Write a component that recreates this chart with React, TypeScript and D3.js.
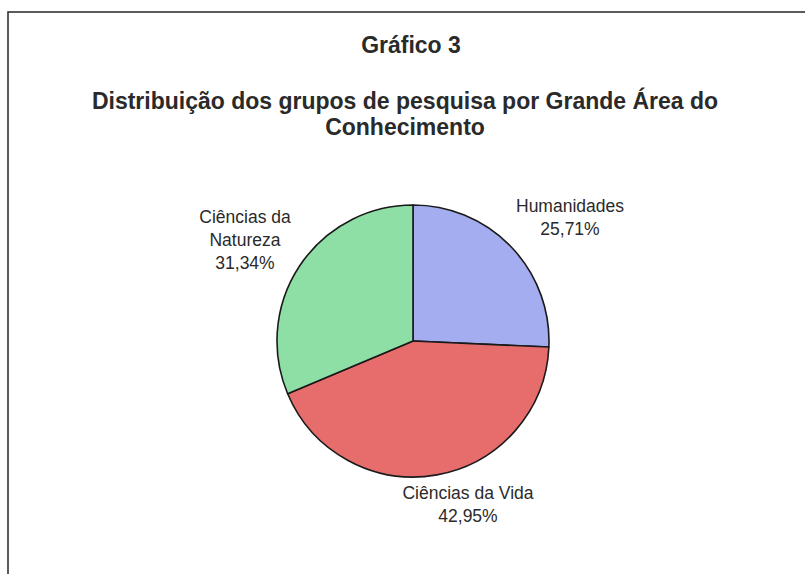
import React from "react";
import * as d3 from "d3";

const categories = ["Humanidades", "Ciências da Vida", "Ciências da Natureza"];
const values = [25.71, 42.95, 31.34];
const valueLabels = ["25,71%", "42,95%", "31,34%"];
const labelLines = [["Humanidades"], ["Ciências da Vida"], ["Ciências da", "Natureza"]];
const colors = ["#a3adef", "#e76d6c", "#8edfa5"];
const title = "Gráfico 3";
const subtitleLines = ["Distribuição dos grupos de pesquisa por Grande Área do", "Conhecimento"];

const W = 805;
const H = 574;
const cx = 413;
const cy = 341;
const R = 136;

// label anchor positions (center x, first baseline y)
const labelPos: [number, number][] = [
  [570, 212],
  [468, 499],
  [245, 223],
];

export default function App() {
  const pie = d3
    .pie<number>()
    .sort(null)
    .value((d) => d)(values);
  const arc = d3.arc<d3.PieArcDatum<number>>().innerRadius(0).outerRadius(R);
  const font = "'Liberation Sans', Arial, sans-serif";
  return (
    <svg
      width={W}
      height={H}
      style={{ position: "absolute", left: 0, top: 0, background: "#fff" }}
      fontFamily={font}
    >
      <rect x={0} y={0} width={W} height={H} fill="#fff" />
      <rect x={8} y={12} width={W + 20} height={H + 20} fill="none" stroke="#333" strokeWidth={1.6} />
      <text x={411} y={53} textAnchor="middle" fontSize={23} fontWeight="bold" fill="#2a2a2a">
        {title}
      </text>
      {subtitleLines.map((t, i) => (
        <text key={i} x={405} y={109 + i * 26} textAnchor="middle" fontSize={23} fontWeight="bold" fill="#2a2a2a">
          {t}
        </text>
      ))}
      <g transform={`translate(${cx},${cy})`}>
        {pie.map((p, i) => (
          <path key={categories[i]} d={arc(p) || ""} fill={colors[i]} stroke="#1a1a1a" strokeWidth={1.6} strokeLinejoin="round" />
        ))}
      </g>
      {categories.map((c, i) => {
        const lines = [...labelLines[i], valueLabels[i]];
        const [lx, ly] = labelPos[i];
        return (
          <text key={c} textAnchor="middle" fontSize={17.5} fill="#2a2a2a">
            {lines.map((l, j) => (
              <tspan key={j} x={lx} y={ly + j * 23}>
                {l}
              </tspan>
            ))}
          </text>
        );
      })}
    </svg>
  );
}
